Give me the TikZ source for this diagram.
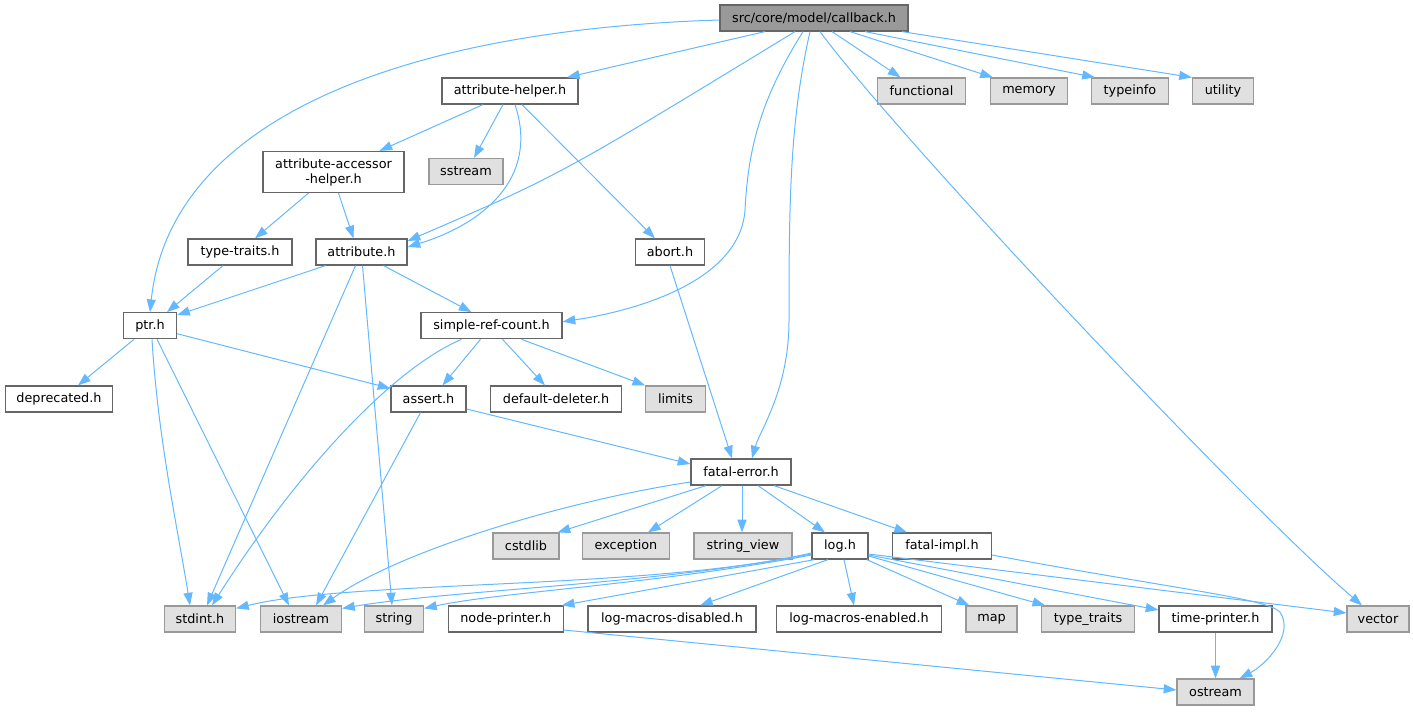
\documentclass[tikz,border=0pt]{standalone}
\usepackage{fontspec}
\setmainfont{DejaVu Sans}
\usetikzlibrary{arrows.meta,calc}
\definecolor{edgec}{HTML}{63B8FF}
\definecolor{nbord}{HTML}{666666}
\definecolor{sbord}{HTML}{999999}
\definecolor{sfill}{HTML}{E0E0E0}
\definecolor{mfill}{HTML}{999999}
\tikzset{
  base/.style={draw, line width=0.9pt, inner sep=0pt, minimum height=19.5pt,
    font=\fontsize{9.6pt}{11.25pt}\selectfont, text=black, minimum width=#1*0.75pt},
  usr/.style={base=#1, draw=nbord, fill=white},
  sys/.style={base=#1, draw=sbord, fill=sfill},
  mainn/.style={base=#1, draw=nbord, fill=mfill},
  dep/.style={draw=edgec, line width=0.75pt, -{Triangle[length=9.5pt,width=6.8pt]}, fill=none},
}
\begin{document}
\begin{tikzpicture}[x=0.75pt,y=-0.75pt]
\path[use as bounding box] (0,0) rectangle (1413,711);
% row 0
\node[mainn=188] (cb) at (814,18) {src/core/model/callback.h};
% row 1
\node[usr=136] (ah) at (510,91) {attribute-helper.h};
\node[sys=88] (func) at (921.5,91) {functional};
\node[sys=77] (mem) at (1029,91) {memory};
\node[sys=77] (tinfo) at (1130,91) {typeinfo};
\node[sys=61] (util) at (1223,91) {utility};
% row 2
\node[usr=141, minimum height=30.75pt, align=center] (aah) at (333.5,172) {attribute-accessor\\-helper.h};
\node[sys=74] (ss) at (466,171.5) {sstream};
% row 3
\node[usr=104] (tt) at (240,252) {type-traits.h};
\node[usr=91] (attr) at (361.5,252) {attribute.h};
\node[usr=69] (abort) at (670,252) {abort.h};
% row 4
\node[usr=53] (ptr) at (150,325.7) {ptr.h};
\node[usr=141] (src) at (491.5,325.7) {simple-ref-count.h};
% row 5
\node[usr=107] (depr) at (59,399) {deprecated.h};
\node[usr=75] (asrt) at (428.5,399) {assert.h};
\node[usr=131] (dd) at (556,399) {default-deleter.h};
\node[sys=59.5] (lim) at (675.5,399) {limits};
% row 6
\node[usr=100] (fe) at (741,472) {fatal-error.h};
% row 7
\node[sys=66] (cstd) at (526,546) {cstdlib};
\node[sys=87] (exc) at (626,546) {exception};
\node[sys=98] (sv) at (743,546) {string\_view};
\node[usr=56] (log) at (840,546) {log.h};
\node[usr=99] (fi) at (942,546) {fatal-impl.h};
% row 8
\node[sys=71] (stdint) at (200,619) {stdint.h};
\node[sys=81] (ios) at (301,619) {iostream};
\node[sys=59] (str) at (394,619) {string};
\node[usr=115] (np) at (505.7,619) {node-printer.h};
\node[usr=168] (lmd) at (672,619) {log-macros-disabled.h};
\node[usr=165] (lme) at (859,619) {log-macros-enabled.h};
\node[sys=51] (map) at (991.5,619) {map};
\node[sys=92.5] (tts) at (1088,619) {type\_traits};
\node[usr=113] (tp) at (1215.5,619) {time-printer.h};
\node[sys=62] (vec) at (1378,619) {vector};
% row 9
\node[sys=77] (os) at (1215.5,692) {ostream};

% edges from callback.h
\draw[dep] ($(cb.west)+(0,2)$) .. controls (400,30) and (170,120) .. (ptr.north);
\draw[dep] ($(cb.south)+(-49,0)$) -- ($(ah.north)+(57,0)$);
\draw[dep] ($(cb.south)+(-19,0)$) .. controls (560,175) .. ($(attr.east)+(0,-11)$);
\draw[dep] ($(cb.south)+(-11,0)$) .. controls (760,100) and (748,150) .. (745,210)
   .. controls (740,280) and (640,310) .. ($(src.east)+(0,-4)$);
\draw[dep] ($(cb.south)+(-4,0)$) .. controls (790,120) and (789,200) .. (789,320)
   .. controls (789,390) and (760,430) .. ($(fe.north)+(11,0)$);
\draw[dep] ($(cb.south)+(18,0)$) -- ($(func.north)+(-21,0)$);
\draw[dep] ($(cb.south)+(36,0)$) -- ($(mem.north west)+(3,0)$);
\draw[dep] ($(cb.south)+(51,0)$) -- ($(tinfo.north west)+(4,0)$);
\draw[dep] ($(cb.south)+(88,0)$) -- (util.north west);
\draw[dep] ($(cb.south)+(6,0)$) .. controls (900,140) and (1250,510) .. ($(vec.north)+(-16,0)$);
% attribute-helper.h
\draw[dep] ($(ah.south)+(-27,0)$) -- ($(aah.north)+(46,0)$);
\draw[dep] ($(ah.south)+(-7,0)$) -- ($(ss.north)+(8,0)$);
\draw[dep] ($(ah.south)+(5,0)$) .. controls (540,180) and (480,225) .. ($(attr.east)+(0,-5)$);
\draw[dep] ($(ah.south)+(12,0)$) -- ($(abort.north)+(-15,0)$);
% attribute-accessor-helper.h
\draw[dep] ($(aah.south)+(-25,0)$) -- ($(tt.north)+(15,0)$);
\draw[dep] ($(aah.south)+(5,0)$) -- ($(attr.north)+(-8,0)$);
% type-traits.h
\draw[dep] ($(tt.south)+(-17,0)$) -- ($(ptr.north)+(17,0)$);
% attribute.h
\draw[dep] ($(attr.south)+(-36,0)$) -- ($(ptr.north east)+(0,3)$);
\draw[dep] ($(attr.south)+(22,0)$) -- ($(src.north)+(-20,0)$);
\draw[dep] ($(attr.south)+(-6,0)$) -- ($(stdint.north)+(7,0)$);
\draw[dep] ($(attr.south)+(1,0)$) -- ($(str.north)+(-2,0)$);
% abort.h
\draw[dep] (abort.south) -- ($(fe.north)+(-9,0)$);
% ptr.h
\draw[dep] ($(ptr.south)+(-16,0)$) -- ($(depr.north)+(19,0)$);
\draw[dep] ($(ptr.east)+(0,8)$) -- ($(asrt.north west)+(0,3)$);
\draw[dep] ($(ptr.south)+(2,0)$) .. controls (158,440) and (178,530) .. ($(stdint.north)+(-10,0)$);
\draw[dep] ($(ptr.south)+(7,0)$) -- ($(ios.north)+(-12,0)$);
% simple-ref-count.h
\draw[dep] ($(src.south)+(-30,0)$) .. controls (390,370) and (295,475) .. ($(stdint.north)+(12,0)$);
\draw[dep] ($(src.south)+(-11,0)$) -- ($(asrt.north)+(14,0)$);
\draw[dep] ($(src.south)+(11,0)$) -- ($(dd.north)+(-11,0)$);
\draw[dep] ($(src.south)+(30,0)$) -- (lim.north west);
% assert.h
\draw[dep] ($(asrt.east)+(0,10)$) -- ($(fe.west)+(0,-8)$);
\draw[dep] ($(asrt.south)+(-8,0)$) -- ($(ios.north)+(15,0)$);
% fatal-error.h
\draw[dep] ($(fe.west)+(0,10)$) .. controls (570,500) and (400,550) .. ($(ios.north)+(22,0)$);
\draw[dep] ($(fe.south)+(-35,0)$) -- ($(cstd.north east)+(-2,0)$);
\draw[dep] ($(fe.south)+(-19,0)$) -- ($(exc.north)+(22,0)$);
\draw[dep] ($(fe.south)+(1,0)$) -- ($(sv.north)+(-1,0)$);
\draw[dep] ($(fe.south)+(17,0)$) -- ($(log.north)+(-15,0)$);
\draw[dep] ($(fe.south)+(33,0)$) -- ($(fi.north)+(-35,0)$);
% log.h
\draw[dep] ($(log.west)+(0,7)$) .. controls (650,590) and (350,580) .. ($(stdint.north east)+(0,3)$);
\draw[dep] ($(log.west)+(0,8)$) .. controls (650,585) and (450,590) .. ($(ios.north east)+(0,3)$);
\draw[dep] ($(log.west)+(0,9)$) .. controls (650,585) and (500,592) .. ($(str.north east)+(0,3)$);
\draw[dep] ($(log.south west)+(3,0)$) -- ($(np.north east)+(-2,0)$);
\draw[dep] ($(log.south)+(-12,0)$) -- ($(lmd.north)+(28,0)$);
\draw[dep] ($(log.south)+(4,0)$) -- ($(lme.north)+(-5,0)$);
\draw[dep] ($(log.south east)+(-2,0)$) -- ($(map.north west)+(4,0)$);
\draw[dep] ($(log.east)+(0,10)$) -- ($(tts.north west)+(4,0)$);
\draw[dep] ($(log.east)+(0,9)$) -- ($(tp.west)+(0,-9)$);
\draw[dep] ($(log.east)+(0,8)$) -- ($(vec.west)+(0,-6)$);
% fatal-impl.h
\draw[dep] ($(fi.east)+(0,9)$) .. controls (1180,590) and (1265,598) .. (1280,612)
   .. controls (1295,635) and (1265,665) .. ($(os.north east)+(-15,0)$);
% node-printer.h, time-printer.h
\draw[dep] ($(np.east)+(0,11)$) -- ($(os.west)+(0,-2)$);
\draw[dep] (tp.south) -- (os.north);
\end{tikzpicture}
\end{document}
